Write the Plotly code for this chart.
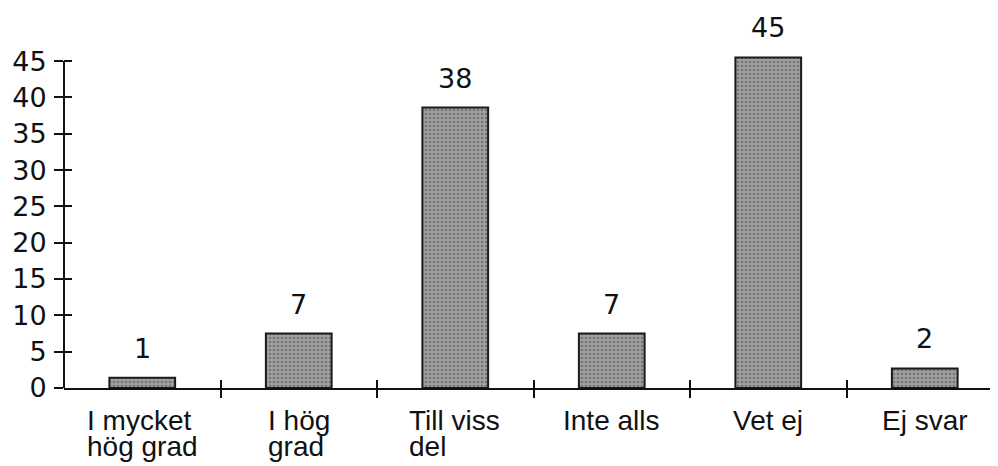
import plotly.graph_objects as go

categories = ["I mycket<br>hög grad", "I hög<br>grad", "Till viss<br>del", "Inte alls", "Vet ej", "Ej svar"]
bar_heights = [1.4, 7.5, 38.6, 7.5, 45.5, 2.7]
value_labels = ["1", "7", "38", "7", "45", "2"]
y_ticks = [0, 5, 10, 15, 20, 25, 30, 35, 40, 45]
y_range = [0, 45.7]
x_range = [-0.5, 5.468]

xs = list(range(len(categories)))
bounds = [i + 0.5 for i in xs[:-1]]

# approximate Arial / Liberation Sans advance widths (per 1000 em)
ARIAL_W = {"I": 278, " ": 278, "m": 833, "y": 500, "c": 500, "k": 500, "e": 556,
           "t": 278, "h": 556, "ö": 556, "g": 556, "r": 333, "a": 556, "d": 556,
           "T": 611, "i": 222, "l": 222, "v": 500, "s": 500, "n": 556, "V": 667,
           "j": 222, "E": 667}


def text_width(s, size):
    return sum(ARIAL_W.get(ch, 556) for ch in s) * size / 1000.0


fig = go.Figure()
fig.add_trace(go.Bar(
    x=xs, y=bar_heights, width=0.42,
    marker=dict(color="#999999", line=dict(color="#1a1a1a", width=2),
                pattern=dict(shape=".", bgcolor="#a0a0a0", fgcolor="#4a4a4a",
                             size=4, solidity=0.35)),
    hoverinfo="skip", showlegend=False,
))

num_font = dict(family="DejaVu Sans", size=27, color="#111")
cat_size = 28
cat_font = dict(family="Liberation Sans", size=cat_size, color="#111")

for x, h, lab in zip(xs, bar_heights, value_labels):
    yp = (h - y_range[0]) / (y_range[1] - y_range[0])
    fig.add_annotation(x=x, y=yp, text=lab, showarrow=False, xref="x", yref="paper",
                       yanchor="bottom", yshift=12, font=num_font)

line_gap = 26
first_shift = -15
for x, c in zip(xs, categories):
    parts = c.split("<br>")
    if len(parts) == 1:
        fig.add_annotation(x=x, y=0, text=c, showarrow=False, xref="x", yref="paper",
                           yanchor="top", yshift=first_shift, font=cat_font)
    else:
        block_w = max(text_width(p, cat_size) for p in parts)
        for k, p in enumerate(parts):
            fig.add_annotation(x=x, y=0, text=p, showarrow=False, xref="x", yref="paper",
                               xanchor="left", xshift=-block_w / 2 - 2,
                               yanchor="top", yshift=first_shift - k * line_gap,
                               font=cat_font)

axis_common = dict(showgrid=False, zeroline=False, linecolor="#111", linewidth=2,
                   tickcolor="#111", tickwidth=1.5, automargin=False)

fig.update_layout(
    width=990, height=458,
    margin=dict(l=56, r=0, t=48, b=78),
    plot_bgcolor="white", paper_bgcolor="white",
    xaxis=dict(range=x_range, tickvals=bounds, ticks="outside", ticklen=8,
               showticklabels=False, showline=True, **axis_common),
    xaxis2=dict(range=x_range, tickvals=bounds, ticks="inside", ticklen=8,
                showticklabels=False, showline=False, overlaying="x",
                showgrid=False, zeroline=False, tickcolor="#111", tickwidth=1.5),
    yaxis=dict(range=y_range, tickvals=y_ticks, ticks="outside", ticklen=9,
               showline=False, tickfont=num_font, ticklabelstandoff=2, **axis_common),
    yaxis2=dict(range=y_range, tickvals=y_ticks, ticks="inside", ticklen=8,
                showticklabels=False, showline=False, overlaying="y", side="left",
                showgrid=False, zeroline=False, tickcolor="#111", tickwidth=1.5),
)
# y-axis line spanning the tick range only
fig.add_shape(type="line", xref="paper", yref="y", x0=0, x1=0,
              y0=y_ticks[0], y1=y_ticks[-1], line=dict(color="#111", width=2))
fig.add_trace(go.Scatter(x=[0], y=[0], xaxis="x2", yaxis="y2", mode="markers",
                         marker=dict(opacity=0), hoverinfo="skip", showlegend=False))

fig.write_html("out.html")
